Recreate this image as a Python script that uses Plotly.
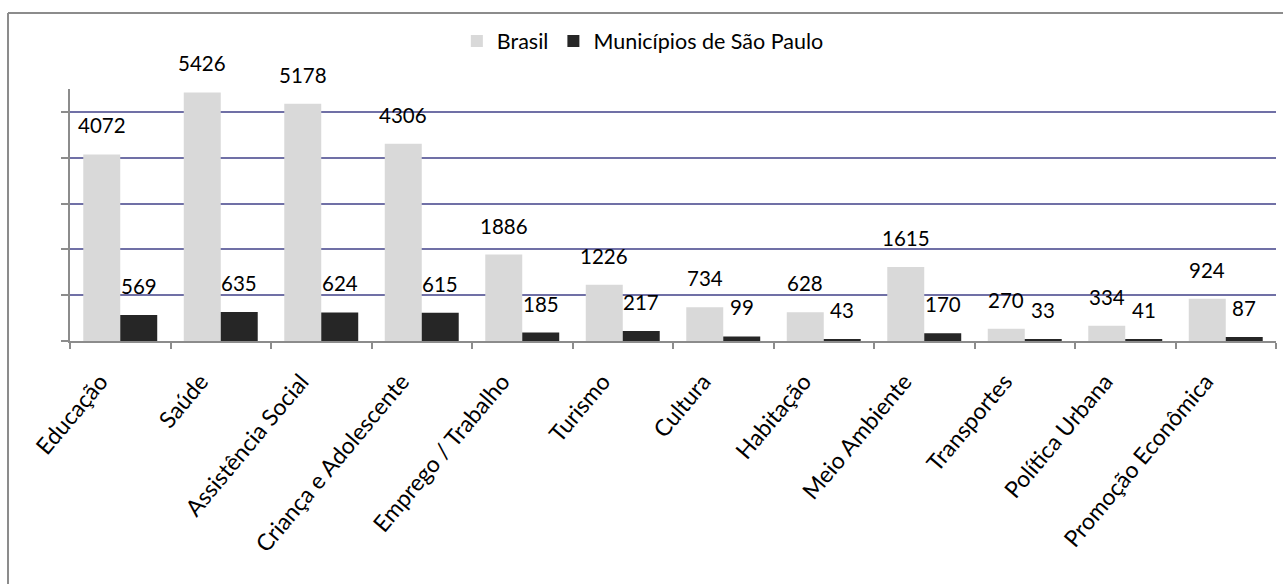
import plotly.graph_objects as go

categories = ["Educação", "Saúde", "Assistência Social", "Criança e Adolescente",
              "Emprego / Trabalho", "Turismo", "Cultura", "Habitação",
              "Meio Ambiente", "Transportes", "Política Urbana", "Promoção Econômica"]
brasil = [4072, 5426, 5178, 4306, 1886, 1226, 734, 628, 1615, 270, 334, 924]
sao_paulo = [569, 635, 624, 615, 185, 217, 99, 43, 170, 33, 41, 87]

FONT = "Lato, 'Open Sans', sans-serif"
LIGHT = "#d9d9d9"
DARK = "#262626"
GRID = "#7070a6"
AXIS = "#8c8c8c"

fig = go.Figure()
fig.add_trace(go.Bar(name="Brasil", x=categories, y=brasil, marker_color=LIGHT,
                     marker_line_width=0))
fig.add_trace(go.Bar(name="Municípios de São Paulo", x=categories, y=sao_paulo,
                     marker_color=DARK, marker_line_width=0))

annotations = []
for c, v in zip(categories, brasil):
    annotations.append(dict(x=c, y=v, xref="x", yref="y", text=str(v), showarrow=False,
                            xshift=-18.5, yshift=15, yanchor="bottom",
                            font=dict(family=FONT, size=20.5, color="#000")))
for c, v in zip(categories, sao_paulo):
    annotations.append(dict(x=c, y=v, xref="x", yref="y", text=str(v), showarrow=False,
                            xshift=18.5, yshift=15, yanchor="bottom",
                            font=dict(family=FONT, size=20.5, color="#000")))

fig.update_layout(
    width=1283, height=584,
    margin=dict(l=70, r=7, t=89, b=243),
    paper_bgcolor="white", plot_bgcolor="white",
    barmode="group", bargap=0.264, bargroupgap=0,
    font=dict(family=FONT, size=19, color="#000"),
    showlegend=True,
    legend=dict(orientation="h", x=0.475, xanchor="center", y=1.19, yanchor="middle",
                font=dict(family=FONT, size=21.5, color="#000"),
                bgcolor="rgba(0,0,0,0)", itemwidth=30),
    annotations=annotations,
    shapes=[
        dict(type="line", xref="paper", yref="paper", x0=-0.0514, x1=1.01, y0=1.3016, y1=1.3016,
             line=dict(color=AXIS, width=2)),
        dict(type="line", xref="paper", yref="paper", x0=-0.0514, x1=-0.0514, y0=1.3016, y1=-0.97,
             line=dict(color=AXIS, width=2)),
    ],
)
fig.update_xaxes(showline=True, linecolor=AXIS, linewidth=2, ticks="outside",
                 tickson="boundaries", ticklen=6, tickcolor=AXIS, tickwidth=1.5,
                 tickangle=-50, tickfont=dict(family=FONT, size=23, color="#000"),
                 ticklabelstandoff=16, ticklabelshift=-20,
                 showgrid=False)
fig.update_yaxes(range=[0, 5500], dtick=1000, showticklabels=False, showline=True,
                 linecolor=AXIS, linewidth=2, ticks="outside", ticklen=7, tickcolor=AXIS,
                 tickwidth=1.5, showgrid=True, gridcolor=GRID, gridwidth=2, zeroline=False)

fig.write_html("out.html")
